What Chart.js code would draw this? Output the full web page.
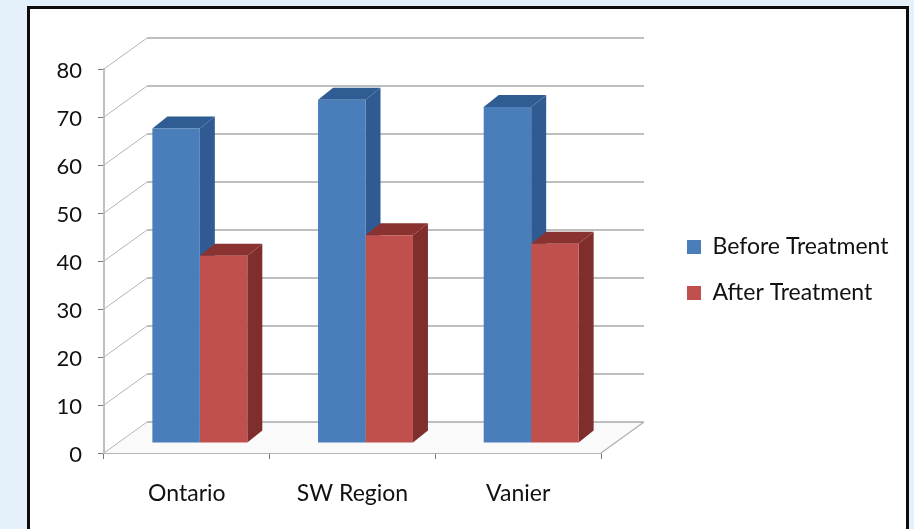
<!DOCTYPE html>
<html>
<head>
<meta charset="utf-8">
<script src="https://cdn.jsdelivr.net/npm/chart.js@4"></script>
<style>
html,body{margin:0;padding:0;width:914px;height:529px;overflow:hidden;background:#e4f1fb}
#panel{position:absolute;left:27px;top:6px;width:876px;height:540px;background:#fff;border:3px solid #0d0d0d}
canvas{position:absolute;left:0;top:0}
</style>
</head>
<body>
<div id="panel"></div>
<canvas id="c" width="914" height="529"></canvas>
<script>
const categories = ["Ontario", "SW Region", "Vanier"];
const beforeTreatment = [65.5, 71.5, 70];
const afterTreatment = [39, 43.3, 41.5];
const yTicks = [0, 10, 20, 30, 40, 50, 60, 70, 80];

const FONT = "Lato, 'Open Sans', sans-serif";
const WALL = {dx: 43, dy: 31};
const BAR_SHIFT = {dx: 13, dy: 10};
const BAR_DEPTH = {dx: 15, dy: 12};
const SIDE = ["#2f5b92", "#7f2e2c"];
const TOP = ["#2f5c92", "#8a3230"];

function poly(ctx, pts, fill) {
  ctx.beginPath();
  pts.forEach((p, i) => i ? ctx.lineTo(p[0], p[1]) : ctx.moveTo(p[0], p[1]));
  ctx.closePath();
  ctx.fillStyle = fill;
  ctx.fill();
}

const depthPlugin = {
  id: "depth",
  beforeLayout(chart) {
    const lg = chart.legend;
    if (lg && !lg._wrapped) {
      const fit = lg.fit;
      lg.fit = function () { fit.call(this); this.width = 313; };
      lg._wrapped = true;
    }
  },
  afterLayout(chart) {
    const lg = chart.legend;
    lg.left = 664; lg.top = 212.5;
    lg.right = 914; lg.bottom = 340;
  },
  beforeDatasetsDraw(chart) {
    const ctx = chart.ctx, a = chart.chartArea, y = chart.scales.y;
    ctx.save();
    const p0 = y.getPixelForValue(0);
    // floor
    poly(ctx, [[a.left, p0], [a.right, p0], [a.right + WALL.dx, p0 - WALL.dy], [a.left + WALL.dx, p0 - WALL.dy]], "#fafafa");
    // grid on the side and back walls
    yTicks.forEach(v => {
      const p = y.getPixelForValue(v);
      ctx.strokeStyle = "#b4b4b4";
      ctx.lineWidth = 1;
      ctx.beginPath();
      ctx.moveTo(a.left, p);
      ctx.lineTo(a.left + WALL.dx, p - WALL.dy);
      ctx.stroke();
      ctx.strokeStyle = "#a8a8a8";
      ctx.lineWidth = 1.6;
      ctx.beginPath();
      ctx.moveTo(a.left + WALL.dx, p - WALL.dy);
      ctx.lineTo(a.right + WALL.dx, p - WALL.dy);
      ctx.stroke();
    });
    ctx.strokeStyle = "#b4b4b4";
    ctx.lineWidth = 1.5;
    ctx.beginPath();
    ctx.moveTo(a.right, p0);
    ctx.lineTo(a.right + WALL.dx, p0 - WALL.dy);
    ctx.stroke();
    // bar depth faces
    ctx.translate(BAR_SHIFT.dx, -BAR_SHIFT.dy);
    chart.data.datasets.forEach((ds, i) => {
      chart.getDatasetMeta(i).data.forEach(b => {
        const l = b.x - b.width / 2, r = b.x + b.width / 2;
        poly(ctx, [[r, b.y], [r + BAR_DEPTH.dx, b.y - BAR_DEPTH.dy], [r + BAR_DEPTH.dx, b.base - BAR_DEPTH.dy], [r, b.base]], SIDE[i]);
        poly(ctx, [[l, b.y], [l + BAR_DEPTH.dx, b.y - BAR_DEPTH.dy], [r + BAR_DEPTH.dx, b.y - BAR_DEPTH.dy], [r, b.y]], TOP[i]);
      });
    });
    ctx.restore();
    ctx.save();
    ctx.translate(BAR_SHIFT.dx, -BAR_SHIFT.dy);
  },
  afterDatasetsDraw(chart) {
    chart.ctx.restore();
  }
};

new Chart(document.getElementById("c"), {
  type: "bar",
  data: {
    labels: categories,
    datasets: [
      {label: "Before Treatment", data: beforeTreatment, backgroundColor: "#4a7ebb", borderWidth: 0, clip: false},
      {label: "After Treatment", data: afterTreatment, backgroundColor: "#c0504d", borderWidth: 0, clip: false}
    ]
  },
  plugins: [depthPlugin],
  options: {
    responsive: false,
    animation: false,
    layout: {padding: {left: 0, right: 0, top: 69, bottom: 0}},
    datasets: {bar: {categoryPercentage: 0.573, barPercentage: 1}},
    plugins: {
      tooltip: {enabled: false},
      title: {display: false},
      legend: {
        position: "right",
        align: "start",
        labels: {
          boxWidth: 14,
          boxHeight: 14,
          padding: 23,
          color: "#111",
          font: {family: FONT, size: 23}
        }
      }
    },
    scales: {
      x: {
        afterFit(s) { s.height = 76; },
        border: {color: "#b4b4b4", width: 2},
        grid: {drawOnChartArea: false, color: "#777", tickLength: 6},
        ticks: {color: "#111", padding: 21, font: {family: FONT, size: 23}}
      },
      y: {
        min: 0,
        max: 80,
        afterFit(s) { s.width = 104; },
        border: {color: "#c0c0c0", width: 2},
        grid: {drawOnChartArea: false, color: "#777", tickLength: 6},
        ticks: {
          stepSize: 10,
          color: "#111",
          padding: 16,
          labelOffset: 2,
          font: {family: FONT, size: 22}
        }
      }
    }
  }
});
</script>
</body>
</html>
